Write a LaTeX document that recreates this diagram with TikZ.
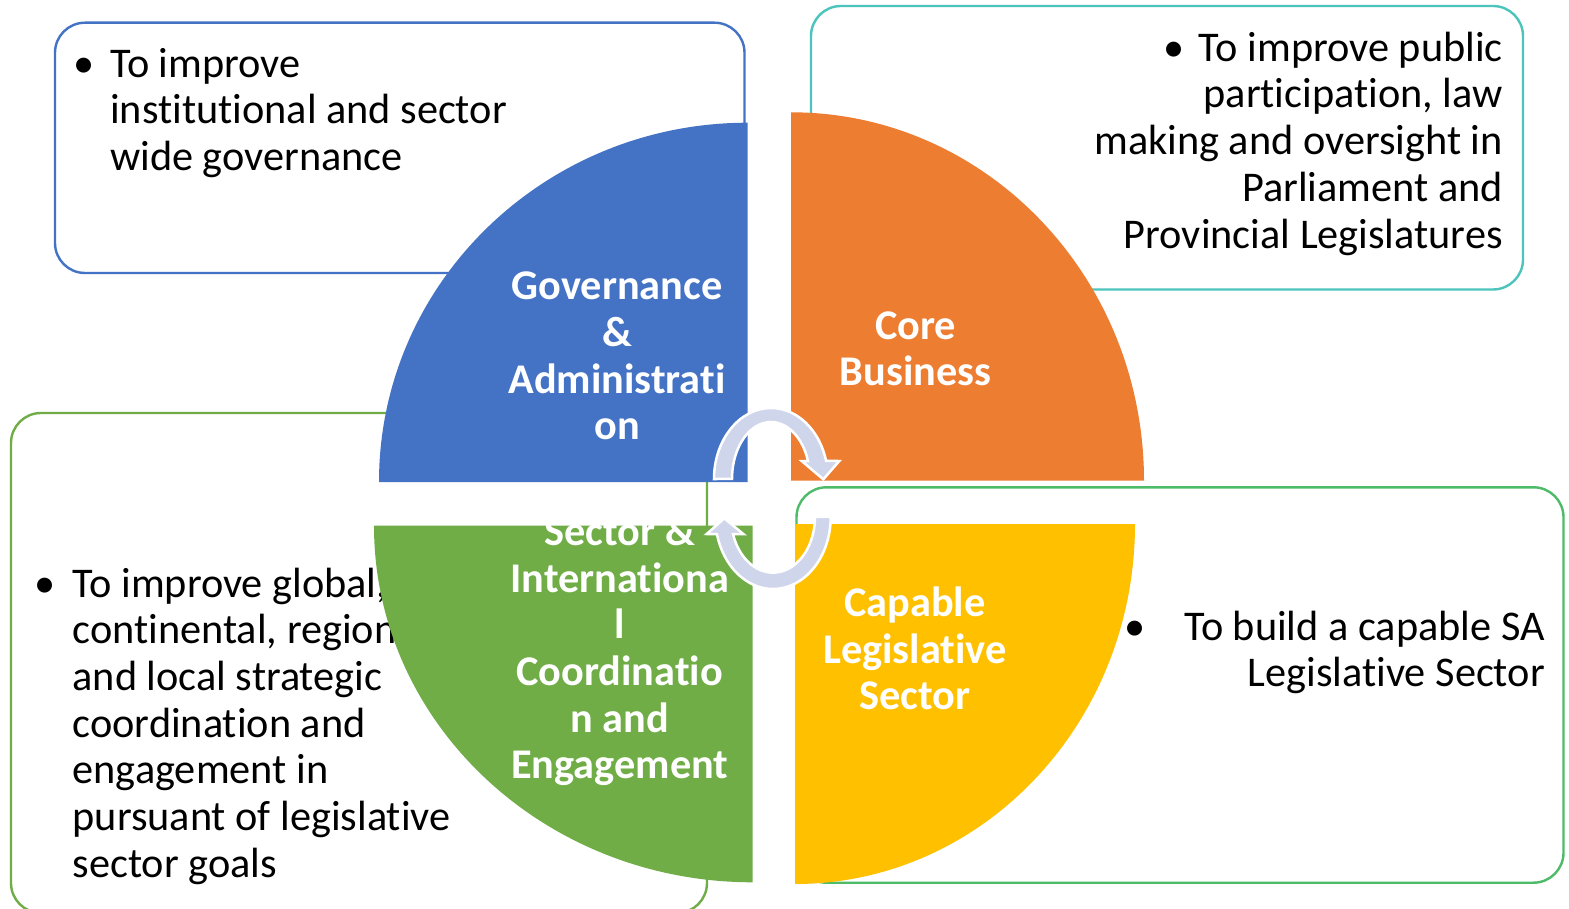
\documentclass[tikz,border=0pt]{standalone}
\usepackage{fontspec}
\setmainfont[Ligatures={NoCommon}]{Carlito}
\definecolor{qblue}{HTML}{4472C4}
\definecolor{qorange}{HTML}{ED7D31}
\definecolor{qgreen}{HTML}{70AD47}
\definecolor{qyellow}{HTML}{FFC000}
\definecolor{arrowc}{HTML}{CFD5EA}
\definecolor{lteal}{HTML}{4BC4BC}
\definecolor{lgreen}{HTML}{4DBB68}
\begin{document}
\begin{tikzpicture}[x=1pt,y=-1pt,
  outbox/.style={line width=2.4pt, rounded corners=30pt},
  bodytxt/.style={inner sep=0pt, text=black, font=\fontsize{42.3}{46.7}\selectfont},
  bul/.style={inner sep=0pt, anchor=base, text=black, font=\fontsize{42.3}{46.7}\selectfont},
  lbl/.style={inner sep=0pt, anchor=base, text=white, font=\bfseries\fontsize{42.3}{46.6}\selectfont},
  arrowshape/.style={fill=arrowc, draw=white, line width=2.5pt, line join=miter}]
\useasboundingbox (0,0) rectangle (1569,909);
\fill[white] (0,0) rectangle (1569,909);

% outline boxes
\draw[outbox, draw=qblue] (55,22.7) rectangle (744.5,273);
\draw[outbox, draw=lteal] (811,6) rectangle (1523,289.5);
\draw[outbox, draw=qgreen] (11,413) rectangle (707,913);
\draw[outbox, draw=lgreen] (796.5,487.3) rectangle (1563.5,882.7);

% body texts
\node[bul] (b1) at (84,77.3) {•};
\node[bodytxt, anchor=base west] (t1) at (110,77.3)
  {\parbox[t]{640pt}{\raggedright To improve\\institutional and sector\\wide governance}};
\node[bul] (b2) at (1174,61.3) {•};
\node[bodytxt, anchor=base east] (t2) at (1503,61.3)
  {\parbox[t]{600pt}{\raggedleft To improve public\\participation, law\\making and oversight in\\Parliament and\\Provincial Legislatures}};
\node[bul] (b3) at (45,597) {•};
\node[bodytxt, anchor=base west] (t3) at (72.5,597)
  {\parbox[t]{640pt}{\raggedright To improve global,\\continental, regional\\and local strategic\\coordination and\\engagement in\\pursuant of legislative\\sector goals}};
\node[bul] (b4) at (1135,640) {•};
\node[bodytxt, anchor=base east] (t4) at (1545,640)
  {\parbox[t]{600pt}{\raggedleft To build a capable SA\\Legislative Sector}};

% quarter shapes
\fill[qblue] (747.7,482) -- (747.7,122.7) arc[start angle=270, end angle=180, x radius=368.7, y radius=359.3] -- cycle;
\fill[qorange] (791,480.7) -- (791,112.3) arc[start angle=270, end angle=360, x radius=353, y radius=368.4] -- cycle;
\fill[qgreen] (752.7,525.7) -- (374,525.7) arc[start angle=180, end angle=90, x radius=378.7, y radius=356.6] -- cycle;
\fill[qyellow] (795,524) -- (1135,524) arc[start angle=0, end angle=90, x radius=340, y radius=360] -- cycle;

% labels
\node[lbl] (l1) at (617,300) {\parbox[t]{320pt}{\centering Governance\\\&\\Administrati\\on}};
\node[lbl] (l2) at (915.5,339.3) {\parbox[t]{320pt}{\centering Core\\Business}};
\node[lbl] (l3) at (619.7,545.7) {\parbox[t]{320pt}{\centering Sector \&\\Internationa\\l\\Coordinatio\\n and\\Engagement}};
\node[lbl] (l4) at (915,616.7) {\parbox[t]{320pt}{\centering Capable\\Legislative\\Sector}};

% circular arrows
\draw[arrowshape] (714,479) arc[start angle=180, end angle=345.3, x radius=57, y radius=71]
  -- (839.3,461) -- (823.3,479.3) -- (801.7,461) -- (808,461)
  arc[start angle=341.6, end angle=180, x radius=39, y radius=57] -- cycle;
\draw[arrowshape] (830.7,517) arc[start angle=0, end angle=166.3, x radius=57.7, y radius=72]
  -- (706.7,534) -- (724.3,518.3) -- (743.3,534) -- (733,534)
  arc[start angle=162.2, end angle=0, x radius=42, y radius=55.7] -- cycle;
\end{tikzpicture}
\end{document}
